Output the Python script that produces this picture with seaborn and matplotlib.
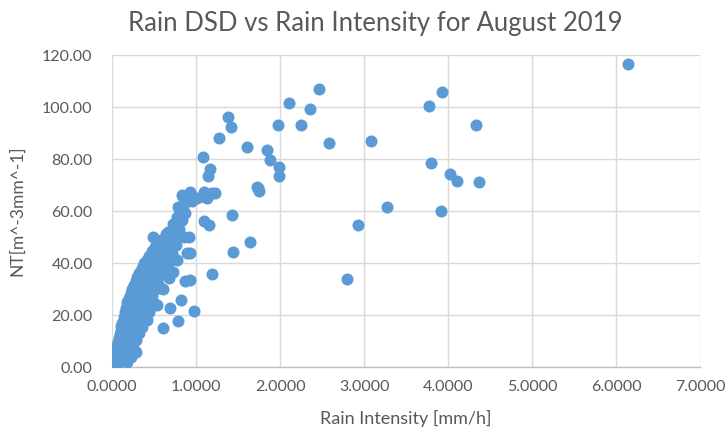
import matplotlib
matplotlib.use("Agg")
import matplotlib.pyplot as plt
import seaborn as sns
import pandas as pd
from matplotlib.ticker import FormatStrFormatter, MultipleLocator

# Rain intensity [mm/h]
rain_intensity = [
    0.00, 0.01, 0.01, 0.02, 0.02, 0.03, 0.03, 0.04, 0.04, 0.05, 0.05, 0.06, 0.06, 0.07, 0.07,
    0.08, 0.08, 0.09, 0.09, 0.10, 0.10, 0.11, 0.11, 0.12, 0.12, 0.13, 0.13, 0.14, 0.14, 0.15,
    0.15, 0.16, 0.16, 0.17, 0.17, 0.18, 0.18, 0.19, 0.19, 0.20, 0.20, 0.21, 0.22, 0.22, 0.23,
    0.24, 0.24, 0.25, 0.26, 0.26, 0.27, 0.28, 0.28, 0.29, 0.30, 0.30, 0.31, 0.32, 0.32, 0.33,
    0.34, 0.35, 0.35, 0.36, 0.37, 0.38, 0.38, 0.39, 0.40, 0.41, 0.42, 0.42, 0.43, 0.44, 0.45,
    0.45, 0.46, 0.47, 0.48, 0.49, 0.49, 0.50, 0.51, 0.52, 0.52, 0.53, 0.54, 0.55, 0.56, 0.57,
    0.58, 0.59, 0.60, 0.61, 0.62, 0.63, 0.64, 0.65, 0.66, 0.67, 0.68, 0.69, 0.70, 0.71, 0.72,
    0.73, 0.74, 0.75, 0.76, 0.77, 0.77, 0.78, 0.79, 0.80, 0.81, 0.82, 0.83, 0.83, 0.84, 0.85,
    0.86, 0.87, 0.87, 0.89, 0.90, 0.91, 0.93, 0.93, 0.95, 0.97, 1.01, 0.93, 1.09, 1.08, 1.11,
    1.13, 1.14, 1.17, 1.19, 1.09, 1.23, 1.15, 1.19, 1.27, 1.38, 1.42, 1.43, 1.44, 1.60, 1.64,
    1.72, 1.75, 1.74, 1.84, 1.88, 1.99, 1.99, 1.98, 2.11, 2.25, 2.35, 2.46, 2.58, 2.80, 2.93,
    3.08, 3.27, 3.77, 3.80, 3.91, 3.93, 4.02, 4.10, 4.33, 4.37, 6.14,
    0.06, 0.09, 0.12, 0.15, 0.18, 0.21, 0.25, 0.29, 0.33, 0.37, 0.41, 0.44, 0.48, 0.53, 0.57,
    0.03, 0.05, 0.10, 0.14, 0.20, 0.27, 0.31, 0.36, 0.40, 0.46, 0.50, 0.55, 0.62, 0.68, 0.29,
    0.28, 0.32, 0.36, 0.42, 0.25, 0.22, 0.18, 0.44, 0.50,
]

# NT [m^-3 mm^-1]
nt_values = [
    0.3, 0.8, 1.5, 2.2, 3.0, 1.2, 4.1, 2.5, 5.3, 0.6, 6.8, 3.4, 8.2, 5.0, 9.5,
    1.8, 11.0, 6.5, 12.7, 3.9, 14.1, 8.4, 15.8, 10.2, 17.0, 2.7, 12.5, 19.1, 7.3, 14.6,
    21.0, 16.9, 4.8, 22.8, 11.2, 18.4, 25.1, 9.0, 20.6, 26.7, 15.3, 23.0, 28.4, 13.1, 19.8,
    30.2, 24.5, 17.2, 27.3, 31.5, 21.4, 33.0, 25.9, 16.0, 29.1, 34.6, 22.7, 36.2, 27.8, 19.5,
    31.0, 38.0, 24.4, 33.9, 28.9, 40.0, 20.8, 35.5, 30.6, 41.2, 26.1, 37.7, 32.5, 42.8, 28.0,
    39.6, 35.0, 44.5, 31.2, 50.1, 40.8, 37.3, 46.0, 33.8, 42.9, 23.8, 48.2, 39.5, 45.1, 35.6,
    49.0, 41.7, 30.0, 14.9, 47.3, 43.4, 51.0, 38.2, 45.9, 52.0, 40.6, 22.9, 48.5, 44.0, 55.0,
    36.7, 50.4, 53.6, 46.8, 57.8, 41.2, 17.8, 61.7, 53.0, 61.0, 25.8, 66.2, 56.5, 65.5, 50.1,
    62.8, 59.1, 33.2, 43.7, 64.3, 50.1, 67.4, 33.5, 64.0, 21.7, 64.9, 43.8, 67.4, 80.9, 65.5,
    64.9, 73.5, 76.2, 66.8, 56.3, 66.8, 54.6, 35.8, 88.2, 96.3, 92.4, 58.5, 44.3, 84.5, 48.0,
    69.3, 67.8, 68.7, 83.5, 79.6, 76.8, 73.5, 93.1, 101.7, 93.1, 99.1, 107.0, 86.3, 33.8, 54.6,
    87.0, 61.4, 100.4, 78.3, 60.0, 105.9, 74.2, 71.7, 93.1, 71.0, 116.7,
    2.0, 4.5, 6.0, 9.8, 12.0, 16.2, 14.0, 18.5, 24.0, 26.5, 33.0, 22.0, 27.5, 36.0, 30.5,
    0.9, 1.6, 2.4, 5.9, 8.7, 11.4, 13.6, 17.7, 20.2, 24.8, 29.5, 31.9, 39.0, 34.4, 5.9,
    10.5, 13.0, 15.5, 18.0, 7.5, 4.0, 2.0, 21.0, 24.5,
]

df = pd.DataFrame({"Rain Intensity [mm/h]": rain_intensity, "NT[m^-3mm^-1]": nt_values})

sns.set_theme(style="white")
plt.rcParams["font.family"] = ["Lato", "DejaVu Sans"]

fig = plt.figure(figsize=(7.28, 4.37), dpi=100)
ax = fig.add_axes([0.154, 0.160, 0.808, 0.714])

sns.scatterplot(data=df, x="Rain Intensity [mm/h]", y="NT[m^-3mm^-1]", ax=ax,
                color="#5B9BD5", s=75, linewidth=0, alpha=1.0, zorder=3)

ax.set_xlim(0, 7)
ax.set_ylim(0, 120)
ax.xaxis.set_major_locator(MultipleLocator(1))
ax.yaxis.set_major_locator(MultipleLocator(20))
ax.xaxis.set_major_formatter(FormatStrFormatter("%.4f"))
ax.yaxis.set_major_formatter(FormatStrFormatter("%.2f"))
ax.grid(True, color="#D9D9D9", linewidth=1.0, zorder=0)
ax.set_axisbelow(True)
for side in ["top", "right", "left"]:
    ax.spines[side].set_visible(False)
ax.spines["bottom"].set_color("#BFBFBF")
ax.spines["bottom"].set_linewidth(1.0)
ax.tick_params(axis="both", length=0, colors="#595959", labelsize=11.5)
ax.tick_params(axis="y", pad=14)
ax.tick_params(axis="x", pad=9)

ax.set_xlabel("Rain Intensity [mm/h]", color="#595959", fontsize=13, labelpad=12)
ax.set_ylabel("NT[m^-3mm^-1]", color="#595959", fontsize=12.5, labelpad=12)
fig.suptitle("Rain DSD vs Rain Intensity for August 2019", color="#595959",
             fontsize=18.5, x=0.515, y=0.975)

fig.savefig("out.png", dpi=100)
